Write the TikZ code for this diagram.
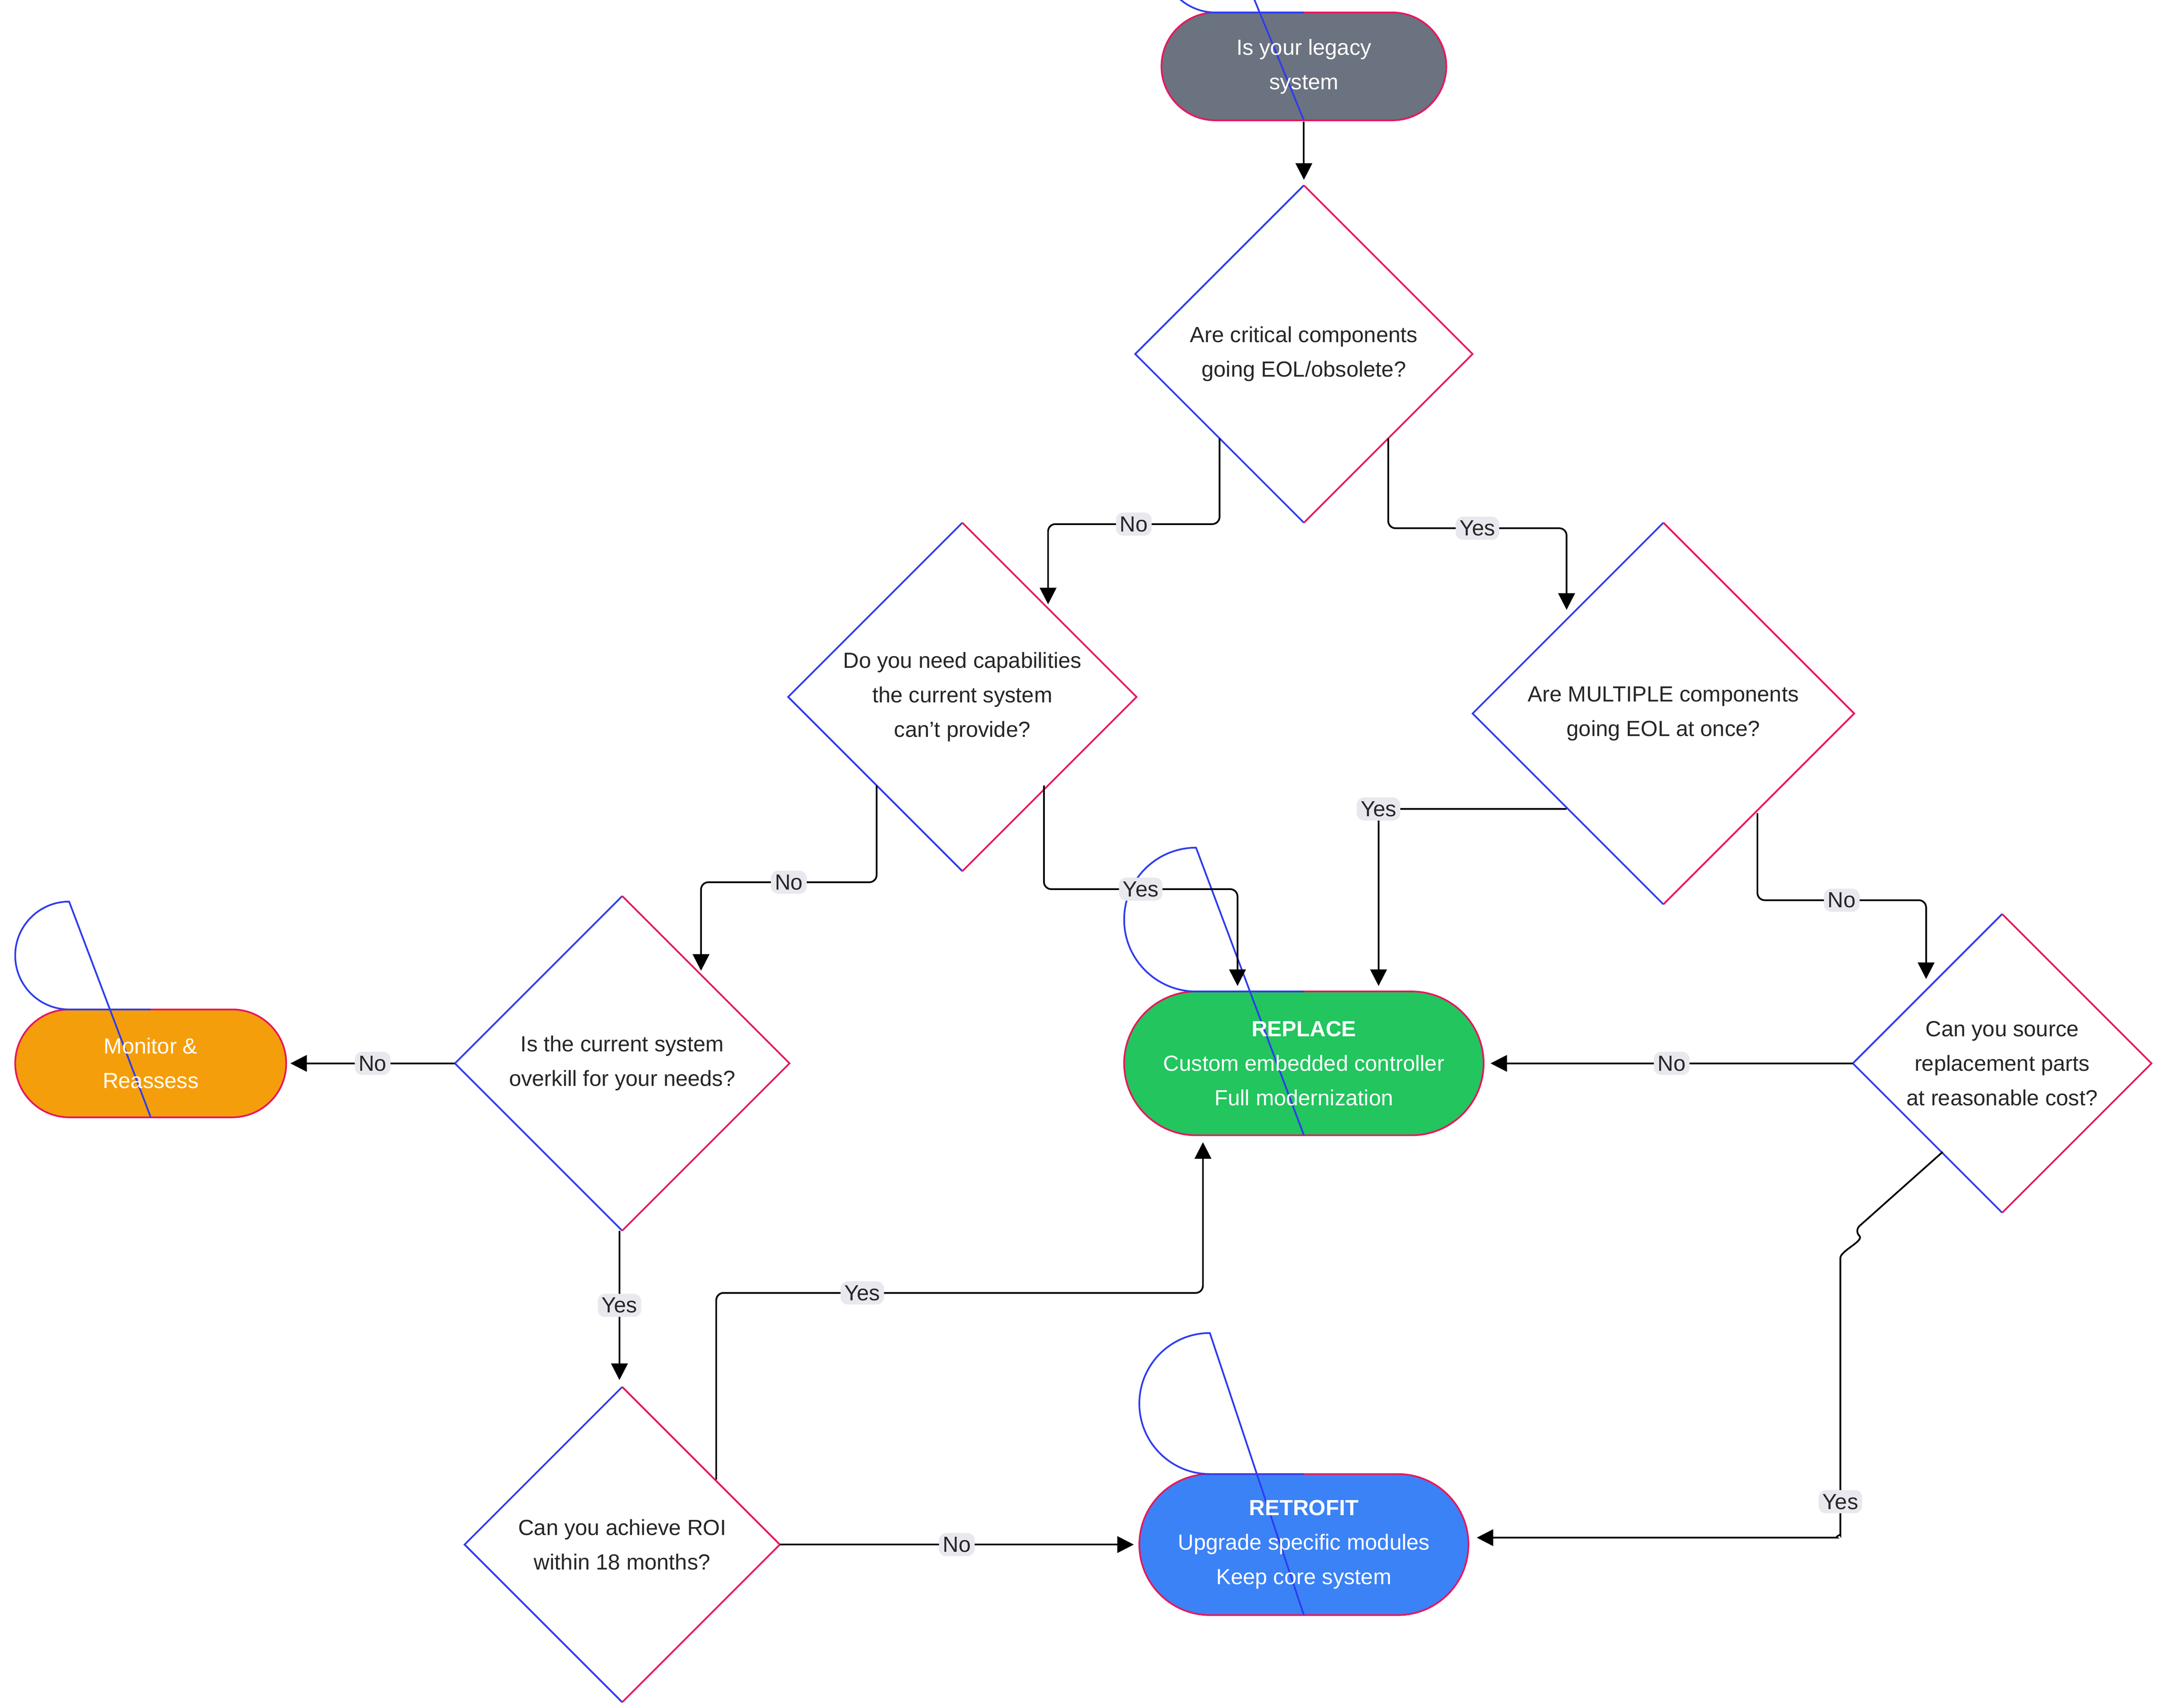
\documentclass[tikz,border=0pt]{standalone}
\usepackage{fontspec}
\setmainfont{Liberation Sans}
\usetikzlibrary{arrows.meta,calc}
\definecolor{bblue}{HTML}{2E3CF0}
\definecolor{bred}{HTML}{E8175D}
\definecolor{lblbg}{HTML}{E8E8EE}
\definecolor{cgray}{HTML}{6B7280}
\definecolor{corange}{HTML}{F59E0B}
\definecolor{cgreen}{HTML}{22C55E}
\definecolor{cblue}{HTML}{3B82F6}
\tikzset{
  txt/.style={font=\fontsize{4.5}{7.1}\selectfont, align=center, text=black!85},
  wtxt/.style={font=\fontsize{4.5}{7.1}\selectfont, align=center, text=white},
  lbl/.style={font=\fontsize{4.5}{5}\selectfont, fill=lblbg, inner sep=0.8pt, text=black!85},
  conn/.style={line width=0.35pt, rounded corners=1.5pt, -{Triangle[length=3.4pt,width=3.4pt]}},
}
\newcommand{\mydiamond}[4]{% name, x, y, half
  \coordinate (#1) at (#2,#3);
  \draw[bblue, line width=0.35pt] (#2,#3+#4) -- (#2-#4,#3) -- (#2,#3-#4);
  \draw[bred, line width=0.35pt] (#2,#3+#4) -- (#2+#4,#3) -- (#2,#3-#4);
}
\newcommand{\mystadium}[6]{% x y w h fill name
  \fill[#5, rounded corners=#4*0.005cm] (#1-#3/2,#2-#4/2) rectangle (#1+#3/2,#2+#4/2);
  \draw[bred, line width=0.35pt, rounded corners=#4*0.005cm] (#1-#3/2,#2-#4/2) rectangle (#1+#3/2,#2+#4/2);
  \draw[bblue, line width=0.35pt] (#1,#2-#4/2) -- (#1-#3/2+#4/2,#2-#4/2) arc (90:270:#4/2) -- (#1,#2+#4/2);
}
\begin{document}
\begin{tikzpicture}[x=0.01cm,y=-0.01cm]
\useasboundingbox[fill=white] (0,0) rectangle (1560,1235);
% stadiums
\mystadium{943}{48}{206}{78}{cgray}{s}
\node[wtxt] (start) at (943,48) {Is your legacy\\system};
\mystadium{109}{769}{196}{78}{corange}{m}
\node[wtxt] (mon) at (109,769) {Monitor \&\\Reassess};
\mystadium{943}{769}{260}{104}{cgreen}{r}
\node[wtxt] (rep) at (943,769) {\textbf{REPLACE}\\Custom embedded controller\\Full modernization};
\mystadium{943}{1117}{238}{102}{cblue}{t}
\node[wtxt] (ret) at (943,1117) {\textbf{RETROFIT}\\Upgrade specific modules\\Keep core system};
% diamonds
\mydiamond{d1}{943}{256}{122}
\node[txt] (t1) at (943,256) {Are critical components\\going EOL/obsolete?};
\mydiamond{d2}{696}{504}{126}
\node[txt] (t2) at (696,504) {Do you need capabilities\\the current system\\can't provide?};
\mydiamond{d3}{1203}{516}{138}
\node[txt] (t3) at (1203,516) {Are MULTIPLE components\\going EOL at once?};
\mydiamond{d4}{450}{769}{121}
\node[txt] (t4) at (450,769) {Is the current system\\overkill for your needs?};
\mydiamond{d5}{1448}{769}{108}
\node[txt] (t5) at (1448,769) {Can you source\\replacement parts\\at reasonable cost?};
\mydiamond{d6}{450}{1117}{114}
\node[txt] (t6) at (450,1117) {Can you achieve ROI\\within 18 months?};
% connectors
\draw[conn] ($(d1)+(0,-168)$) -- ++(0,42);
\draw[conn] ($(d1)+(-61,61)$) |- ($(d2)+(62,-125)$) node[lbl, pos=0.75]{No} -- ($(d2)+(62,-67)$);
\draw[conn] ($(d1)+(61,61)$) |- ($(d3)+(-70,-134)$) node[lbl, pos=0.75]{Yes} -- ($(d3)+(-70,-75)$);
\draw[conn] ($(d2)+(-62,64)$) |- ($(d4)+(57,-131)$) node[lbl, pos=0.75]{No} -- ($(d4)+(57,-67)$);
\draw[conn] ($(d2)+(59,64)$) |- ($(rep)+(-48,-126)$) node[lbl, pos=0.75]{Yes} -- ($(rep)+(-48,-56)$);
\draw[conn] ($(d3)+(-70,69)$) -| ($(rep)+(54,-56)$) node[lbl, pos=0.5]{Yes};
\draw[conn] ($(d3)+(68,72)$) |- ($(d5)+(-55,-118)$) node[lbl, pos=0.75]{No} -- ($(d5)+(-55,-61)$);
\draw[conn] ($(d5)+(-108,0)$) -- node[lbl]{No} ($(rep)+(135,0)$);
\draw[conn] ($(d5)+(-43,64)$) -- (1341,890) to[out=-45,in=90] (1331,915) -- (1331,1105) node[lbl, pos=0.9]{Yes} to[out=-90,in=0] (1323,1112) -- ($(ret)+(125,-5)$);
\draw[conn] ($(d4)+(-121,0)$) -- node[lbl]{No} ($(mon)+(101,0)$);
\draw[conn] ($(d4)+(-2,121)$) -- node[lbl]{Yes} ($(d6)+(-2,-119)$);
\draw[conn] ($(d6)+(68,-47)$) |- ($(rep)+(-73,166)$) node[lbl, pos=0.65]{Yes} -- ($(rep)+(-73,57)$);
\draw[conn] ($(d6)+(114,0)$) -- node[lbl]{No} ($(ret)+(-123,0)$);
\end{tikzpicture}
\end{document}
